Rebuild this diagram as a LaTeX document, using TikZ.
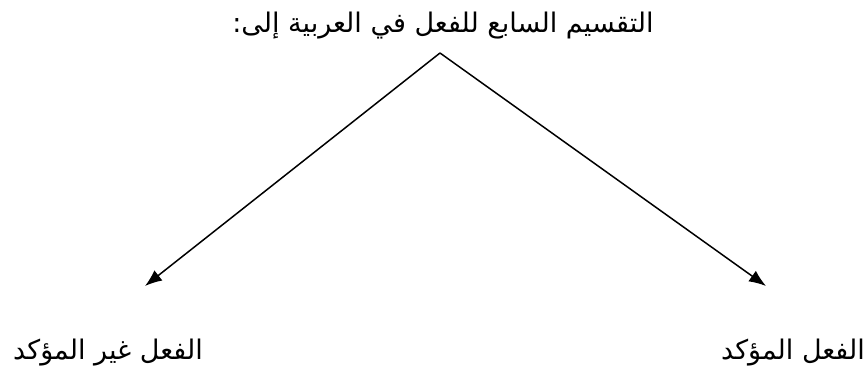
\documentclass[tikz,border=0pt]{standalone}
\usepackage{fontspec}
\newfontfamily\arabicfont[Script=Arabic]{DejaVu Sans}
\TeXXeTstate=1
\usetikzlibrary{arrows.meta}

\begin{document}
\begin{tikzpicture}[x=1pt, y=1pt, >={Latex[length=17pt,width=13pt]}, line width=1.5pt,
	every node/.style={font=\arabicfont\fontsize{27}{32}\selectfont, inner sep=0pt}]
	
	\useasboundingbox (0,0) rectangle (867,380);
	
	% ================= العنوان =================
	\node (title) at (443,354) {\beginR التقسيم السابع للفعل في العربية إلى:\endR};
	\coordinate (apex) at (440,327);
	
	% ================= الفرعان =================
	\node (left) at (108,27) {\beginR الفعل غير المؤكد\endR};
	\node (right) at (793,27) {\beginR الفعل المؤكد\endR};
	\coordinate (lefttip) at (145,94);
	\coordinate (righttip) at (766,94);
	
	\draw[->] (apex) -- (lefttip);
	\draw[->] (apex) -- (righttip);
	
\end{tikzpicture}
\end{document}
